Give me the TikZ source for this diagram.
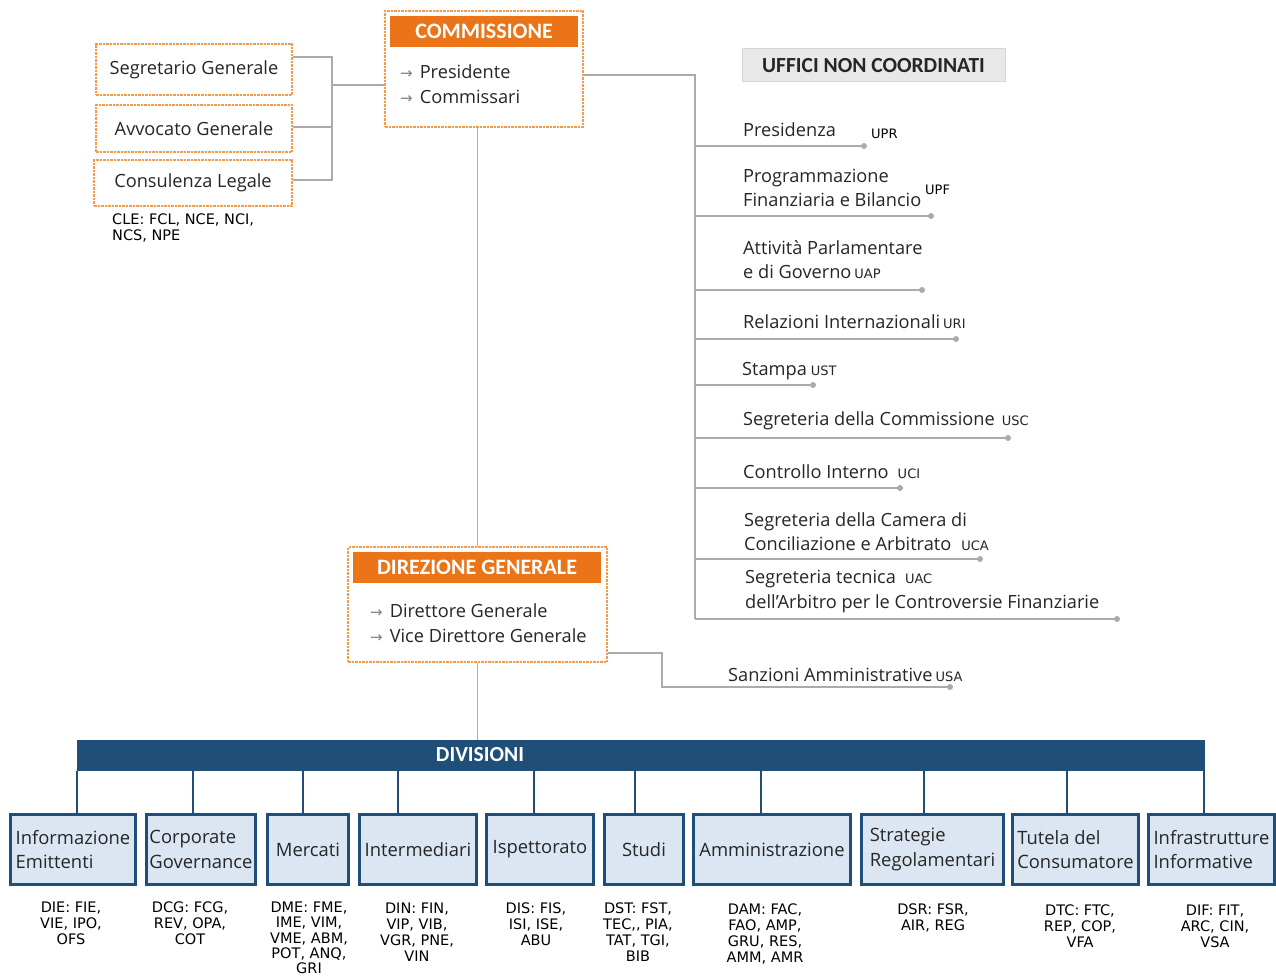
\documentclass[tikz,border=0pt]{standalone}
\usepackage{fontspec}
\setmainfont{Open Sans}
\newfontfamily\hdfont{Carlito}
\newfontfamily\cfont{DejaVu Sans}
\usetikzlibrary{calc}
\definecolor{org}{HTML}{EA7417}
\definecolor{orgd}{HTML}{F39A4C}
\definecolor{gl}{HTML}{ABABAB}
\definecolor{navy}{HTML}{1F4E79}
\definecolor{lb}{HTML}{DCE6F2}
\definecolor{txt}{HTML}{262626}
\definecolor{ufg}{HTML}{E8E8E8}
\definecolor{ufb}{HTML}{D6D6D6}
\newcommand\offc[1]{{\cfont\fontsize{13}{13}\selectfont #1}}
\newcommand\myarr{{\color{gray}\cfont\fontsize{15}{15}\selectfont →}\hspace{7pt}}
\begin{document}
\begin{tikzpicture}[x=1pt,y=-1pt,
  lbl/.style={font=\fontsize{18.2}{24.5}\selectfont, text=txt, inner sep=0pt, anchor=west, align=left},
  code/.style={font=\cfont\fontsize{14.5}{16}\selectfont, text=black, inner sep=0pt, align=center, anchor=north},
  gline/.style={draw=gl, line width=1.6pt},
  obox/.style={draw=orgd, line width=1.6pt, dash pattern=on 2.5pt off 1pt, fill=white, inner sep=0pt},
  sbox/.style={obox, font=\fontsize{18.2}{20}\selectfont, text=txt},
  ohead/.style={fill=org, text=white, font=\hdfont\bfseries\fontsize{22}{24}\selectfont, inner sep=0pt, minimum height=31pt},
  dbox/.style={draw=navy, line width=2.8pt, fill=lb, font=\fontsize{18.4}{24.5}\selectfont, text=txt, align=left, inner sep=1pt, minimum height=70pt},
  dline/.style={draw=navy, line width=2.8pt}
]
\useasboundingbox (0,0) rectangle (1276,979);
\fill[white] (0,0) rectangle (1276,979);

% ---------- left staff boxes ----------
\node[sbox, minimum width=196pt, minimum height=51pt] (sg) at (194,69.5) {Segretario Generale};
\node[sbox, minimum width=196pt, minimum height=47pt] (av) at (194,128.5) {Avvocato Generale};
\node[sbox, minimum width=198pt, minimum height=46pt] (cl) at (193,183) {Consulenza Legale};
\node[code, align=left, anchor=north west] (cle) at (112,214) {CLE: FCL, NCE, NCI,\\NCS, NPE};

% ---------- commissione ----------
\node[obox, minimum width=198pt, minimum height=116pt] (comm) at (484,69) {};
\node[ohead, minimum width=188pt] (commh) at (484,31.5) {COMMISSIONE};
\node[lbl] (commi) at (400,84) {\myarr Presidente\\\myarr Commissari};

\coordinate (jA) at (332,57);
\coordinate (jB) at (332,127);
\coordinate (jC) at (332,180);
\coordinate (jM) at (332,85);
\draw[gline] (sg.east |- jA) -- (jA) -- (jC) -- (cl.east |- jC);
\draw[gline] (av.east |- jB) -- (jB);
\draw[gline] (jM) -- (comm.west |- jM);

% ---------- uffici non coordinati ----------
\node[fill=ufg, draw=ufb, line width=1pt, minimum width=263pt, minimum height=33pt, inner sep=0pt,
      font=\hdfont\bfseries\fontsize{21.5}{24}\selectfont, text=txt] (unc) at (873.5,65.5) {UFFICI NON COORDINATI};

\coordinate (tr) at (695,75);
\coordinate (trb) at (695,619);
\draw[gline] (comm.east |- tr) -- (tr) -- (trb);

\node[lbl] (u1) at (743,130) {Presidenza};
\node[inner sep=0pt, anchor=west] (u1c) at (871,134) {\offc{UPR}};
\coordinate (e1) at (864,146);
\node[lbl] (u2) at (743,188) {Programmazione\\Finanziaria e Bilancio};
\node[inner sep=0pt, anchor=west] (u2c) at (925,190) {\offc{UPF}};
\coordinate (e2) at (931,216);
\node[lbl] (u3) at (743,259.5) {Attività Parlamentare\\e di Governo\hspace{3pt}\offc{UAP}};
\coordinate (e3) at (922,290);
\node[lbl] (u4) at (743,322) {Relazioni Internazionali\hspace{3pt}\offc{URI}};
\coordinate (e4) at (956,339);
\node[lbl] (u5) at (742,371) {Stampa\hspace{4pt}\offc{UST}};
\coordinate (e5) at (813,385);
\node[lbl] (u6) at (743,421) {Segreteria della Commissione\hspace{7pt}\offc{USC}};
\coordinate (e6) at (1008,438);
\node[lbl] (u7) at (743,472) {Controllo Interno\hspace{9pt}\offc{UCI}};
\coordinate (e7) at (900,488);
\node[lbl] (u8) at (744,531.5) {Segreteria della Camera di\\Conciliazione e Arbitrato\hspace{10pt}\offc{UCA}};
\coordinate (e8) at (980,559);
\node[lbl] (u9) at (745,591.5) {Segreteria tecnica\hspace{9pt}\offc{UAC}\\dell’Arbitro per le Controversie Finanziarie};
\coordinate (e9) at (1117,619);

\foreach \e in {e1,e2,e3,e4,e5,e6,e7,e8,e9}{
  \draw[gline] (tr |- \e) -- (\e);
  \fill[gl] (\e) circle[radius=3];
}

% ---------- direzione generale ----------
\node[obox, minimum width=259pt, minimum height=115pt] (dg) at (477.5,604.5) {};
\node[ohead, minimum width=248pt] (dgh) at (477,567.5) {DIREZIONE GENERALE};
\node[lbl] (dgi) at (370,623) {\myarr Direttore Generale\\\myarr Vice Direttore Generale};
\draw[gline] (dg.north) -- (dg.north |- comm.south);

\coordinate (dgk) at (662,653);
\coordinate (sa) at (950,687);
\draw[gline] (dg.east |- dgk) -- (dgk) |- (sa);
\fill[gl] (sa) circle[radius=3];
\node[lbl] (san) at (728,675) {Sanzioni Amministrative\hspace{3pt}\offc{USA}};

% ---------- divisioni ----------
\node[fill=navy, minimum width=1128pt, minimum height=31pt, inner sep=0pt] (bar) at (641,755.5) {};
\node[text=white, font=\hdfont\bfseries\fontsize{21.5}{24}\selectfont, inner sep=0pt] (bart) at (480,755) {DIVISIONI};
\draw[gline] (dg.south) -- (dg.south |- bar.north);

\node[dbox, minimum width=125pt] (d1) at (73,849.5) {Informazione\\Emittenti};
\node[dbox, minimum width=109pt] (d2) at (201,849.5) {Corporate\\Governance};
\node[dbox, minimum width=81pt] (d3) at (308,849.5) {Mercati};
\node[dbox, minimum width=117pt] (d4) at (418,849.5) {Intermediari};
\node[dbox, minimum width=107pt] (d5) at (540,849.5) {Ispettorato};
\node[dbox, minimum width=79pt] (d6) at (644,849.5) {Studi};
\node[dbox, minimum width=157pt] (d7) at (772,849.5) {Amministrazione};
\node[dbox, minimum width=142pt] (d8) at (932.5,849.5) {Strategie\\Regolamentari};
\node[dbox, minimum width=126pt] (d9) at (1075.5,849.5) {Tutela del\\Consumatore};
\node[dbox, minimum width=126pt] (d10) at (1211.5,849.5) {Infrastrutture\\Informative};

\foreach \d/\s in {d1/4,d2/-8,d3/-5,d4/-20,d5/-6,d6/-9,d7/-11,d8/-8.5,d9/-8.5,d10/-7.5}{
  \draw[dline] ([xshift=\s pt]\d.north) -- ([xshift=\s pt]\d.north |- bar.south);
}

% ---------- codici ----------
\node[code] (c1) at (71,902) {DIE: FIE,\\VIE, IPO,\\OFS};
\node[code] (c2) at (190,902) {DCG: FCG,\\REV, OPA,\\COT};
\node[code, font=\cfont\fontsize{14.5}{15.2}\selectfont] (c3) at (309,902) {DME: FME,\\IME, VIM,\\VME, ABM,\\POT, ANQ,\\GRI};
\node[code] (c4) at (417,903) {DIN: FIN,\\VIP, VIB,\\VGR, PNE,\\VIN};
\node[code] (c5) at (536,903) {DIS: FIS,\\ISI, ISE,\\ABU};
\node[code] (c6) at (638,903) {DST: FST,\\TEC,, PIA,\\TAT, TGI,\\BIB};
\node[code] (c7) at (765,904) {DAM: FAC,\\FAO, AMP,\\GRU, RES,\\AMM, AMR};
\node[code] (c8) at (933,904) {DSR: FSR,\\AIR, REG};
\node[code] (c9) at (1080,905) {DTC: FTC,\\REP, COP,\\VFA};
\node[code] (c10) at (1215,905) {DIF: FIT,\\ARC, CIN,\\VSA};
\end{tikzpicture}
\end{document}
